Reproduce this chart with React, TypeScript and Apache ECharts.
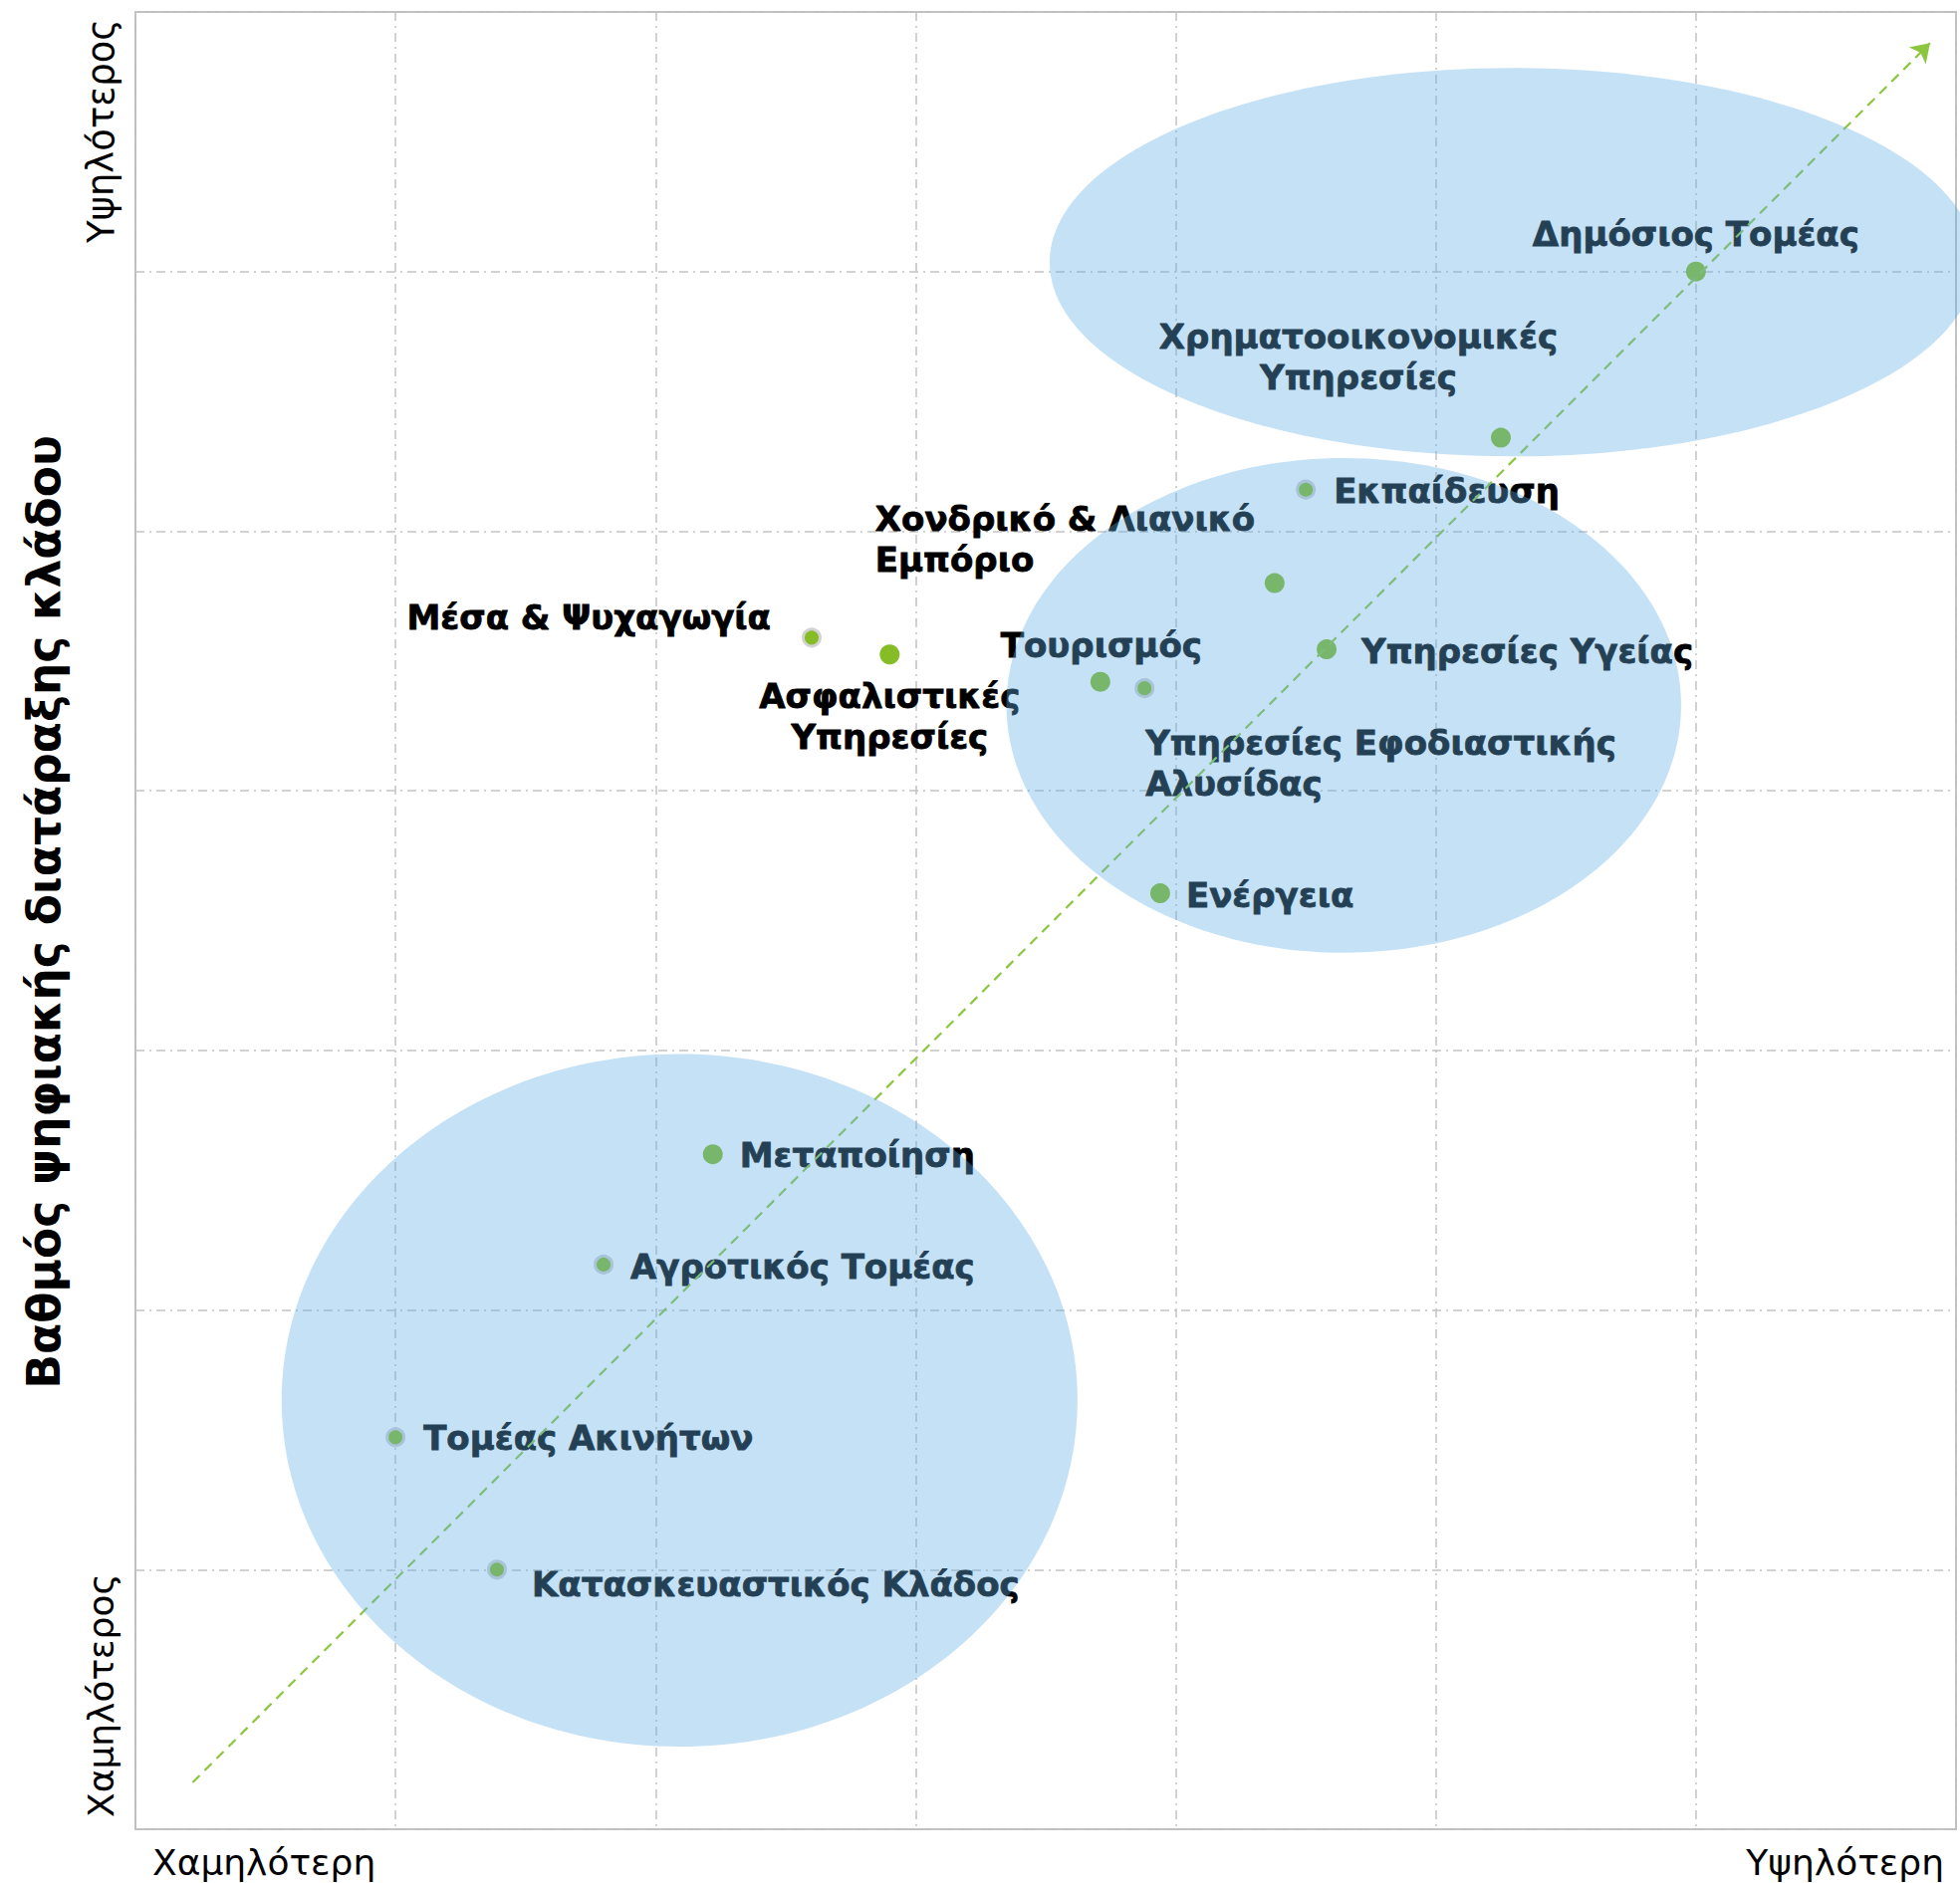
import React, { useEffect, useRef } from "react";
import * as echarts from "echarts";

// ---- data ----
const sectors = [
  "Δημόσιος Τομέας",
  "Χρηματοοικονομικές\nΥπηρεσίες",
  "Εκπαίδευση",
  "Χονδρικό & Λιανικό\nΕμπόριο",
  "Υπηρεσίες Υγείας",
  "Τουρισμός",
  "Υπηρεσίες Εφοδιαστικής\nΑλυσίδας",
  "Ενέργεια",
  "Μέσα & Ψυχαγωγία",
  "Ασφαλιστικές\nΥπηρεσίες",
  "Μεταποίηση",
  "Αγροτικός Τομέας",
  "Τομέας Ακινήτων",
  "Κατασκευαστικός Κλάδος",
];
const maturity = [6.0, 5.25, 4.5, 4.38, 4.58, 3.71, 3.88, 3.94, 2.6, 2.9, 2.22, 1.8, 1.0, 1.39];
const disruption = [6.0, 5.36, 5.16, 4.8, 4.545, 4.42, 4.395, 3.605, 4.59, 4.525, 2.6, 2.175, 1.51, 1.0];

const clusterCx = [5.295, 4.646, 2.092];
const clusterCy = [6.036, 4.329, 1.652];
const clusterRx = [1.78, 1.297, 1.53];
const clusterRy = [0.748, 0.953, 1.334];

const trendStart = [0.22, 0.18];
const trendEnd = [6.9, 6.88];

const xEndLabels = ["Χαμηλότερη", "Υψηλότερη"];
const yEndLabels = ["Χαμηλότερος", "Υψηλότερος"];
const yAxisTitle = "Βαθμός ψηφιακής διατάραξης κλάδου";

// ---- styles / label placement (pixels relative to the dot centre) ----
const labelPlacement: Record<string, [string, number, number]> = {
  "Δημόσιος Τομέας": ["center", 0, -38],
  "Χρηματοοικονομικές\nΥπηρεσίες": ["center", -143, -81],
  "Εκπαίδευση": ["left", 28, 1],
  "Χονδρικό & Λιανικό\nΕμπόριο": ["left", -401, -44],
  "Υπηρεσίες Υγείας": ["left", 35, 2],
  "Τουρισμός": ["center", 1, -37],
  "Υπηρεσίες Εφοδιαστικής\nΑλυσίδας": ["left", 1, 75],
  "Ενέργεια": ["left", 26, 2],
  "Μέσα & Ψυχαγωγία": ["right", -41, -20],
  "Ασφαλιστικές\nΥπηρεσίες": ["center", 0, 62],
  "Μεταποίηση": ["left", 27, 1],
  "Αγροτικός Τομέας": ["left", 27, 2],
  "Τομέας Ακινήτων": ["left", 28, 1],
  "Κατασκευαστικός Κλάδος": ["left", 35, 15],
};
const haloDots = new Set([
  "Εκπαίδευση",
  "Υπηρεσίες Εφοδιαστικής\nΑλυσίδας",
  "Μέσα & Ψυχαγωγία",
  "Αγροτικός Τομέας",
  "Τομέας Ακινήτων",
  "Κατασκευαστικός Κλάδος",
]);

const GRID = { left: 136, top: 12, right: 4, bottom: 54 };
const FONT = '"DejaVu Sans", Verdana, sans-serif';

export default function App() {
  const ref = useRef<HTMLDivElement>(null);

  useEffect(() => {
    if (!ref.current) return;
    const chart = echarts.init(ref.current, undefined, { renderer: "svg" });

    const scatterData = sectors.map((name, i) => {
      const [align, dx, dy] = labelPlacement[name];
      const halo = haloDots.has(name);
      return {
        name,
        value: [maturity[i], disruption[i]],
        symbolSize: halo ? 17 : 20,
        itemStyle: halo
          ? { color: "#86bc25", borderColor: "#d2d2d2", borderWidth: 3, opacity: 1 }
          : { color: "#86bc25", opacity: 1 },
        label: { align, offset: [dx, dy] },
      };
    });

    const ellipseData = clusterCx.map((cx, i) => [cx, clusterCy[i], clusterRx[i], clusterRy[i]]);

    const option: any = {
      animation: false,
      backgroundColor: "#ffffff",
      grid: {
        ...GRID,
        show: true,
        borderColor: "#bfbfbf",
        borderWidth: 2,
        backgroundColor: "transparent",
      },
      xAxis: {
        type: "value",
        min: 0,
        max: 7,
        interval: 1,
        axisLine: { show: false },
        axisTick: { show: false },
        axisLabel: { show: false },
        splitLine: {
          show: true,
          lineStyle: { color: "#c4c4c4", width: 1.5, type: [9, 5, 2, 5] },
        },
      },
      yAxis: {
        type: "value",
        min: 0,
        max: 7,
        interval: 1,
        axisLine: { show: false },
        axisTick: { show: false },
        axisLabel: { show: false },
        splitLine: {
          show: true,
          lineStyle: { color: "#c4c4c4", width: 1.5, type: [9, 5, 2, 5] },
        },
      },
      series: [
        {
          type: "scatter",
          z: 2,
          data: scatterData,
          itemStyle: { opacity: 1 },
          label: {
            show: true,
            position: "inside",
            formatter: "{b}",
            color: "#000000",
            opacity: 1,
            fontFamily: FONT,
            fontWeight: "bold",
            fontSize: 34,
            lineHeight: 41,
            verticalAlign: "middle",
            textBorderWidth: 0.8,
            textBorderColor: "#000000",
          },
          emphasis: { disabled: true },
          markLine: {
            silent: true,
            z: 5,
            symbol: ["none", "arrow"],
            symbolSize: 18,
            label: { show: false },
            lineStyle: { type: [10, 7], color: "#8cc63f", width: 2.2, opacity: 1 },
            emphasis: { disabled: true },
            data: [[{ coord: trendStart }, { coord: trendEnd }]],
          },
        },
        {
          type: "custom",
          z: 10,
          silent: true,
          clip: false,
          encode: { x: 0, y: 1 },
          data: ellipseData,
          renderItem: (params: any, api: any) => {
            const c = api.coord([api.value(0), api.value(1)]);
            const s = api.size([api.value(2), api.value(3)]);
            return {
              type: "ellipse",
              shape: { cx: c[0], cy: c[1], rx: s[0], ry: s[1] },
              style: { fill: "rgba(97,173,227,0.37)" },
            };
          },
        },
      ],
      graphic: [
        {
          type: "text",
          x: 153,
          y: 1870,
          style: {
            text: xEndLabels[0],
            fontFamily: FONT,
            fontSize: 36,
            fill: "#000",
            align: "left",
            verticalAlign: "middle",
          },
        },
        {
          type: "text",
          x: 1952,
          y: 1870,
          style: {
            text: xEndLabels[1],
            fontFamily: FONT,
            fontSize: 36,
            fill: "#000",
            align: "right",
            verticalAlign: "middle",
          },
        },
        {
          type: "text",
          x: 101,
          y: 1825,
          rotation: Math.PI / 2,
          style: {
            text: yEndLabels[0],
            fontFamily: FONT,
            fontSize: 36,
            fill: "#000",
            align: "left",
            verticalAlign: "middle",
          },
        },
        {
          type: "text",
          x: 101,
          y: 19,
          rotation: Math.PI / 2,
          style: {
            text: yEndLabels[1],
            fontFamily: FONT,
            fontSize: 37,
            fill: "#000",
            align: "right",
            verticalAlign: "middle",
          },
        },
        {
          type: "text",
          x: 44,
          y: 916,
          rotation: Math.PI / 2,
          style: {
            text: yAxisTitle,
            fontFamily: FONT,
            fontWeight: "bold",
            fontSize: 45.5,
            fill: "#000",
            align: "center",
            verticalAlign: "middle",
          },
        },
      ],
    };

    chart.setOption(option);
    return () => chart.dispose();
  }, []);

  return (
    <div
      ref={ref}
      style={{ position: "absolute", left: 0, top: 0, width: 1968, height: 1891 }}
    />
  );
}
